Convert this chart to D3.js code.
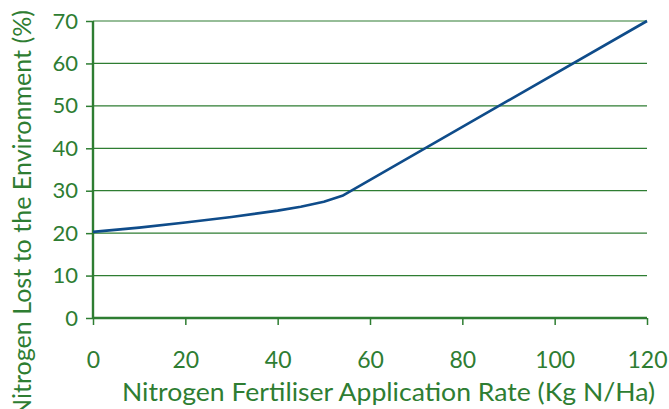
<!DOCTYPE html>
<html>
<head>
<meta charset="utf-8">
<script src="https://cdn.jsdelivr.net/npm/d3@7"></script>
<style>
  body { margin: 0; background: #fff; }
  text { font-family: Lato, "Open Sans", sans-serif; fill: #2e7d32; }
</style>
</head>
<body>
<div id="chart"></div>
<script>
// values
let rates = [0, 10, 20, 30, 40, 45, 50, 54, 120];
let lost = [20.3, 21.3, 22.5, 23.8, 25.3, 26.2, 27.4, 28.8, 70];
let xTicks = [0, 20, 40, 60, 80, 100, 120];
let yTicks = [0, 10, 20, 30, 40, 50, 60, 70];

let width = 669, height = 409;
let green = "#2e7d32", blue = "#0f4c8a";

let svg = d3.select("#chart").append("svg")
    .attr("width", width)
    .attr("height", height);

let x = d3.scaleLinear().domain([0, 120]).range([93, 647]);
let y = d3.scaleLinear().domain([0, 70]).range([318, 21]);

// grid
svg.append("g").selectAll("line")
    .data(yTicks.filter(d => d > 0))
    .enter().append("line")
    .attr("x1", x(0)).attr("x2", x(120))
    .attr("y1", d => y(d)).attr("y2", d => y(d))
    .attr("stroke", green).attr("stroke-width", 1.2);

// axes
let xAxis = svg.append("g")
    .attr("transform", "translate(0," + y(0) + ")")
    .call(d3.axisBottom(x).tickValues(xTicks).tickSize(7));
let yAxis = svg.append("g")
    .attr("transform", "translate(" + x(0) + ",0)")
    .call(d3.axisLeft(y).tickValues(yTicks).tickSize(7).tickPadding(8));

[xAxis, yAxis].forEach(a => {
    a.select(".domain").attr("stroke", green).attr("stroke-width", 2.4);
    a.selectAll(".tick line").attr("stroke", green).attr("stroke-width", 1.5);
    a.selectAll(".tick text").style("fill", green);
});
xAxis.selectAll(".tick text").style("font-size", "23px").attr("y", 50).attr("dy", 0);
yAxis.selectAll(".tick text").style("font-size", "22px");
xAxis.select(".domain").attr("d", "M" + x(0) + ",0H" + x(120));
yAxis.select(".domain").attr("d", "M0," + y(70) + "V" + y(0));

// line
let line = d3.line()
    .x((d, i) => x(rates[i]))
    .y(d => y(d));

svg.append("path")
    .attr("d", line(lost))
    .attr("fill", "none")
    .attr("stroke", blue)
    .attr("stroke-width", 2.6)
    .attr("stroke-linejoin", "round");

// titles
svg.append("text")
    .attr("x", 122).attr("y", 401)
    .attr("textLength", 533)
    .attr("lengthAdjust", "spacingAndGlyphs")
    .style("font-size", "25px")
    .text("Nitrogen Fertiliser Application Rate (Kg N/Ha)");

svg.append("text")
    .attr("transform", "translate(31,418) rotate(-90)")
    .attr("textLength", 408)
    .attr("lengthAdjust", "spacingAndGlyphs")
    .style("font-size", "25px")
    .text("Nitrogen Lost to the Environment (%)");
</script>
</body>
</html>
